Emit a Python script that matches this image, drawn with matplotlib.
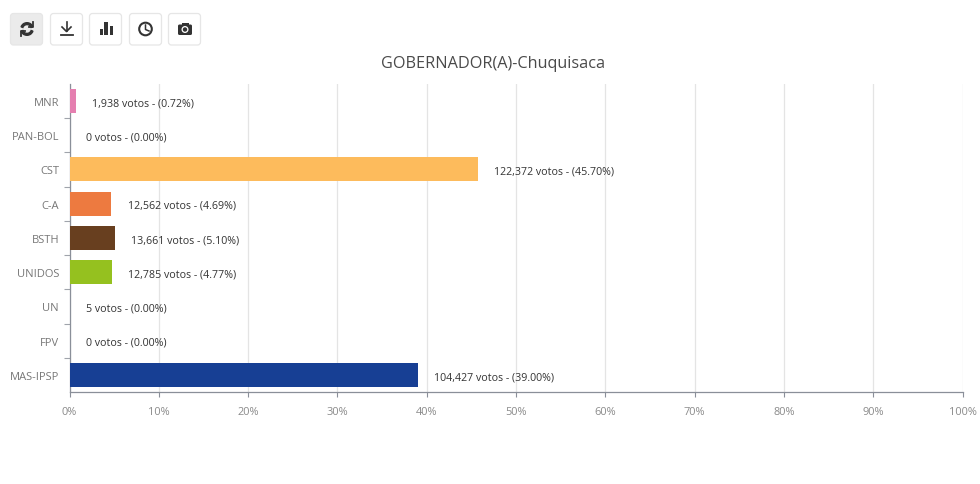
import matplotlib
matplotlib.use("Agg")
import matplotlib.pyplot as plt
from matplotlib.patches import Circle, FancyBboxPatch, Rectangle, Wedge

categories = ["MNR", "PAN-BOL", "CST", "C-A", "BSTH", "UNIDOS", "UN", "FPV", "MAS-IPSP"]
percents = [0.72, 0.0, 45.70, 4.69, 5.10, 4.77, 0.0, 0.0, 39.00]
votes = ["1,938", "0", "122,372", "12,562", "13,661", "12,785", "5", "0", "104,427"]
colors = ["#e57fb0", "#d9d9d9", "#fdbb5c", "#ed7a40", "#683f1f", "#95c11f", "#d9d9d9", "#d9d9d9", "#173f94"]
x_ticks = [0, 10, 20, 30, 40, 50, 60, 70, 80, 90, 100]

W = 980
H = 485
plt.rcParams["font.family"] = ["Open Sans", "DejaVu Sans"]

fig = plt.figure(figsize=(W / 100, H / 100), dpi=100, facecolor="white")

# plot area, given in pixels of the reference
left, right, top, bottom = 69.5, 962.5, 84.8, 393.0
ax = fig.add_axes([left / W, 1 - bottom / H, (right - left) / W, (bottom - top) / H])

y_pos = list(range(len(categories)))
ax.set_axisbelow(True)
ax.barh(y_pos, percents, height=0.7, color=colors, zorder=3)
ax.set_xlim(0, 100)
ax.set_ylim(len(categories) - 0.5, -0.5)

ax.set_xticks(x_ticks)
ax.set_xticklabels([str(t) + "%" for t in x_ticks], fontsize=7.9, color="#8a8a8a")
ax.set_yticks(y_pos)
ax.set_yticklabels(categories, fontsize=8, color="#777777")
# separators between bands, none at the two ends of the axis
ax.set_yticks([i - 0.5 for i in range(1, len(categories))], minor=True)
ax.tick_params(axis="y", which="major", length=0, pad=7.5)
ax.tick_params(axis="y", which="minor", length=4, width=0.8, color="#a0a4ab")
ax.tick_params(axis="x", length=3.6, width=0.8, color="#8a8f99", pad=6.5)
ax.grid(axis="x", color="#e4e4e4", linewidth=0.9)

for s in ["top", "right"]:
    ax.spines[s].set_visible(False)
for s in ["left", "bottom"]:
    ax.spines[s].set_color("#8a8f99")
    ax.spines[s].set_linewidth(0.9)
ax.spines["left"].set_zorder(2)

# labels sit about 16px right of the bar end
for y, p, v in zip(y_pos, percents, votes):
    ax.annotate(v + " votos - (" + format(p, ".2f") + "%)", (p, y), xytext=(11.7, -1.2),
                textcoords="offset points", va="center", ha="left", fontsize=7.7, color="#333333",
                zorder=4)

fig.text(493 / W, 1 - 64.5 / H, "GOBERNADOR(A)-Chuquisaca", ha="center", va="center",
         fontsize=11.7, color="#4a4a4a")

# toolbar, drawn in pixel coordinates
bar = fig.add_axes([0, 0, 1, 1], facecolor="none")
bar.set_xlim(0, W)
bar.set_ylim(H, 0)
bar.axis("off")

ink = "#333333"
btn_left = [10, 50, 89, 129, 168]
for i, x in enumerate(btn_left):
    bar.add_patch(FancyBboxPatch((x + 0.5, 14.5), 32, 31.5, boxstyle="round,pad=0,rounding_size=3",
                                 mutation_aspect=1, linewidth=0.9,
                                 edgecolor="#e6e6e6", facecolor="#ebebeb" if i == 0 else "white"))

# refresh
bar.add_patch(Wedge((27, 30), 6.3, 200, 340, width=1.9, color=ink))
bar.add_patch(Wedge((27, 30), 6.3, 20, 160, width=1.9, color=ink))
bar.plot([33, 33, 29], [23, 28, 28], color=ink, lw=1.3)
bar.plot([21, 21, 25], [37, 32, 32], color=ink, lw=1.3)

# download
bar.plot([66.5, 66.5], [23, 32], color=ink, lw=1.2)
bar.plot([62, 66.5, 71], [28, 32.5, 28], color=ink, lw=1.2)
bar.plot([60.5, 72.5], [36, 36], color=ink, lw=1.3)

# bars
bar.add_patch(Rectangle((99.5, 30), 3.2, 6, color=ink, lw=0))
bar.add_patch(Rectangle((104.3, 22.5), 3.6, 13.5, color=ink, lw=0))
bar.add_patch(Rectangle((109.5, 27), 3.2, 9, color=ink, lw=0))

# clock
bar.add_patch(Circle((145.5, 30), 6.3, fill=False, edgecolor=ink, linewidth=1.5))
bar.plot([145.5, 145.5, 149], [26, 30.5, 32], color=ink, lw=1.1)

# camera
bar.add_patch(FancyBboxPatch((178, 25.5), 14, 10.5, boxstyle="round,pad=0,rounding_size=1.5",
                             mutation_aspect=1, linewidth=0, facecolor=ink))
bar.add_patch(Rectangle((181.5, 23.5), 7, 3, color=ink, lw=0))
bar.add_patch(Circle((185, 30.5), 3.5, color="white", lw=0))
bar.add_patch(Circle((185, 30.5), 2.2, color=ink, lw=0))

fig.savefig("out.png", dpi=100, facecolor="white")
